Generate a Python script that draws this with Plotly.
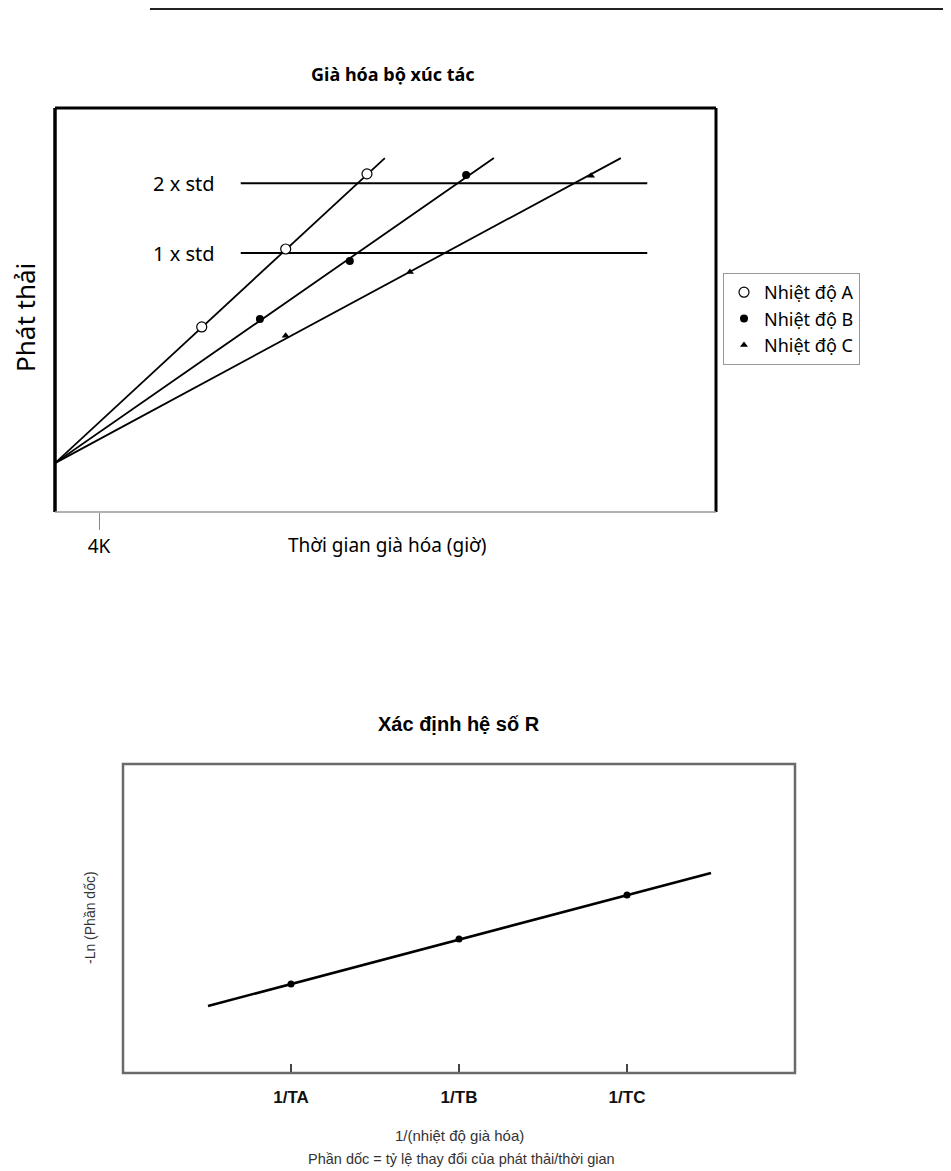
import plotly.graph_objects as go

# page is 951x1171; the html body keeps an 8px margin, so the figure is drawn 8px in
W, H = 951, 1171
OFF = 8
FW, FH = W - OFF, H - OFF

# ---- chart 1: catalyst ageing (arbitrary units, 0-100 on both axes)
origin_y = 12.1
line_top_y = 87.6
line_end_x = {"A": 49.9, "B": 66.4, "C": 85.6}
temp_a_x = [22.2, 34.9, 47.2]
temp_a_y = [45.8, 65.1, 83.7]
temp_b_x = [31.0, 44.6, 62.2]
temp_b_y = [47.8, 62.1, 83.4]
temp_c_x = [34.9, 53.7, 81.1]
temp_c_y = [43.6, 59.4, 83.2]
std_x = [28.1, 89.6]
std_levels = [64.1, 81.4]
std_labels = ["1 x std", "2 x std"]
tick_4k = [6.66]
tick_4k_text = ["4K"]

# ---- chart 2: R coefficient
r_ticks = [1, 2, 3]
r_tick_labels = ["1/TA", "1/TB", "1/TC"]
r_points_y = [28.8, 43.4, 57.6]
r_line_x = [0.506, 3.5]
r_line_y = [21.7, 64.7]

FONT1 = "Noto Sans"
FONT2 = "Liberation Sans"


def px(x):
    return (x - OFF) / FW


def py(y):
    return 1 - (y - OFF) / FH


fig = go.Figure()

# lines from the common origin
for k in ["A", "B", "C"]:
    fig.add_trace(go.Scatter(x=[0, line_end_x[k]], y=[origin_y, line_top_y], mode="lines",
                             line=dict(color="black", width=1.8), showlegend=False,
                             xaxis="x", yaxis="y", hoverinfo="skip"))

# std levels
for lv in std_levels:
    fig.add_trace(go.Scatter(x=std_x, y=[lv, lv], mode="lines",
                             line=dict(color="black", width=2), showlegend=False,
                             xaxis="x", yaxis="y", hoverinfo="skip"))

fig.add_trace(go.Scatter(x=temp_a_x, y=temp_a_y, mode="markers", name="Nhiệt độ A",
                         marker=dict(symbol="circle", size=10, color="white",
                                     line=dict(color="black", width=1.2)),
                         xaxis="x", yaxis="y"))
fig.add_trace(go.Scatter(x=temp_b_x, y=temp_b_y, mode="markers", name="Nhiệt độ B",
                         marker=dict(symbol="circle", size=8, color="black"),
                         xaxis="x", yaxis="y"))
fig.add_trace(go.Scatter(x=temp_c_x, y=temp_c_y, mode="markers", name="Nhiệt độ C",
                         marker=dict(symbol="triangle-up", size=7, color="black"),
                         xaxis="x", yaxis="y"))

# chart 2
fig.add_trace(go.Scatter(x=r_line_x, y=r_line_y, mode="lines",
                         line=dict(color="black", width=2.6), showlegend=False,
                         xaxis="x2", yaxis="y2", hoverinfo="skip"))
fig.add_trace(go.Scatter(x=r_ticks, y=r_points_y, mode="markers",
                         marker=dict(size=7, color="black"), showlegend=False,
                         xaxis="x2", yaxis="y2"))

shapes = [
    # rule at the top of the page
    dict(type="line", xref="paper", yref="paper", x0=px(150), x1=1, y0=py(9), y1=py(9),
         line=dict(color="#222", width=2)),
    # chart 1 frame
    dict(type="line", xref="x domain", yref="y domain", x0=0, x1=0, y0=0, y1=1,
         line=dict(color="black", width=3.5)),
    dict(type="line", xref="x domain", yref="y domain", x0=0, x1=1, y0=1, y1=1,
         line=dict(color="black", width=3)),
    dict(type="line", xref="x domain", yref="y domain", x0=1, x1=1, y0=0, y1=1,
         line=dict(color="black", width=3)),
    dict(type="line", xref="x domain", yref="y domain", x0=0, x1=1, y0=0, y1=0,
         line=dict(color="#999", width=1.5)),
    # chart 2 frame
    dict(type="rect", xref="x2 domain", yref="y2 domain", x0=0, x1=1, y0=0, y1=1,
         line=dict(color="#6a6a6a", width=2.5)),
]


def note(text, x, y, size, family, color="black", bold=False, angle=0):
    return dict(text=text, x=px(x), y=py(y), xref="paper", yref="paper",
                xanchor="center", yanchor="middle", textangle=angle, showarrow=False,
                font=dict(family=family, size=size, color=color,
                          weight="bold" if bold else "normal"))


annotations = [
    note("Già hóa bộ xúc tác", 393, 74, 18, FONT1, bold=True),
    note("Phát thải", 25, 318, 26, FONT1, angle=-90),
    note("Thời gian già hóa (giờ)", 387, 545, 19, FONT1),
    note("Xác định hệ số R", 459, 724, 20, FONT2, bold=True),
    note("-Ln (Phần dốc)", 90, 918, 14, FONT2, color="#333", angle=-90),
    note("1/(nhiệt độ già hóa)", 459, 1135, 15, FONT2, color="#333"),
    note("Phần dốc = tỷ lệ thay đổi của phát thải/thời gian", 461, 1159, 14.5, FONT2,
         color="#333"),
]
for lbl, lv in zip(std_labels, std_levels):
    annotations.append(dict(text=lbl, x=19.5, y=lv, xref="x", yref="y", showarrow=False,
                            xanchor="center", yanchor="middle",
                            font=dict(family=FONT1, size=20, color="black")))

fig.update_layout(
    width=FW, height=FH,
    margin=dict(l=0, r=0, t=0, b=0),
    paper_bgcolor="white", plot_bgcolor="white",
    shapes=shapes, annotations=annotations,
    xaxis=dict(domain=[px(55), px(716)], range=[0, 100], showgrid=False, zeroline=False,
               showline=False, tickvals=tick_4k, ticktext=tick_4k_text, ticks="outside",
               ticklen=17, tickcolor="#888", tickwidth=1,
               tickfont=dict(family=FONT1, size=19, color="black")),
    yaxis=dict(domain=[py(512), py(108)], range=[0, 100], showgrid=False, zeroline=False,
               showline=False, showticklabels=False, ticks=""),
    xaxis2=dict(domain=[px(123), px(795)], range=[0, 4], showgrid=False, zeroline=False,
                showline=False, tickvals=r_ticks, ticktext=r_tick_labels, ticks="inside",
                ticklen=9, tickcolor="#444", tickwidth=1.5, ticklabelstandoff=12,
                tickfont=dict(family=FONT2, size=17, color="#111", weight="bold"),
                anchor="y2"),
    yaxis2=dict(domain=[py(1073), py(764)], range=[0, 100], showgrid=False, zeroline=False,
                showline=False, showticklabels=False, ticks="", anchor="x2"),
    legend=dict(x=px(723), y=py(273), xanchor="left", yanchor="top",
                bordercolor="#999", borderwidth=1, bgcolor="white",
                font=dict(family=FONT1, size=18, color="black"),
                itemwidth=30, tracegroupgap=0),
    showlegend=True,
)

fig.write_html("out.html")
